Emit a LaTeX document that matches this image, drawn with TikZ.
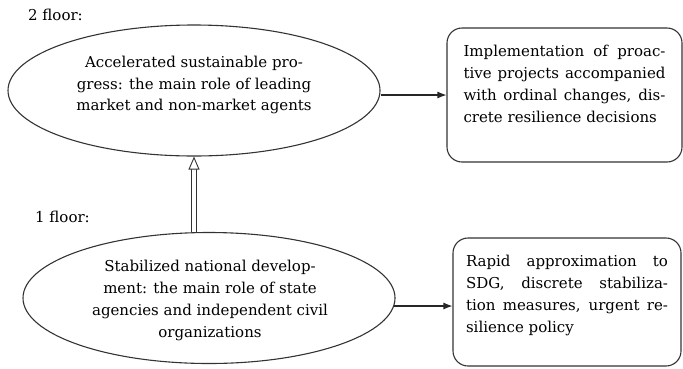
\documentclass[tikz,border=0pt]{standalone}
\usepackage{fontspec}
\setmainfont{DejaVu Serif}
\usetikzlibrary{arrows.meta,calc,shapes.geometric}
\newcommand\jl[1]{\makebox[\linewidth][s]{#1}}
\begin{document}
\begin{tikzpicture}[x=1bp,y=-1bp,
  font=\fontsize{15bp}{21.7bp}\selectfont,
  ell/.style={ellipse, draw=black!80, line width=1.1bp, inner sep=0pt},
  etext/.style={align=center, inner sep=0pt},
  rbox/.style={draw=black!80, line width=1.1bp, rounded corners=15bp, inner sep=0pt},
  conn/.style={-{Latex[length=9bp,width=7bp]}, line width=1.1bp, black!85},
  lift/.style={double, double distance=3.6bp, line width=0.9bp, black!80,
    -{Triangle[open, fill=white, length=13bp, width=11bp, line width=0.9bp]}},
  floorlbl/.style={anchor=base west, inner sep=0pt}]
\useasboundingbox (0,0) rectangle (683,368);

\node[floorlbl] (f2) at (28,20) {2 floor:};
\node[floorlbl] (f1) at (35,222) {1 floor:};

\node[ell, minimum width=372bp, minimum height=131bp] (top) at (194,90.5) {};
\node[etext] (toptxt) at (194,85) {Accelerated sustainable pro-\\gress: the main role of leading\\market and non-market agents};

\node[ell, minimum width=372bp, minimum height=131bp] (bot) at (209,298) {};
\node[etext] (bottxt) at (210,300.5) {Stabilized national develop-\\ment: the main role of state\\agencies and independent civil\\organizations};

\node[rbox, minimum width=235bp, minimum height=134bp] (topbox) at (564.5,95)
  {\parbox[t][99bp][t]{202bp}{\jl{Implementation of proac-}\\\jl{tive projects accompanied}\\\jl{with ordinal changes, dis-}\\crete resilience decisions}};

\node[rbox, minimum width=228bp, minimum height=128bp] (botbox) at (567,302)
  {\parbox[t][93bp][t]{202bp}{\jl{Rapid approximation to}\\\jl{SDG, discrete stabiliza-}\\\jl{tion measures, urgent re-}\\silience policy}};

\draw[conn] (top.east |- topbox.west) -- (topbox.west);
\coordinate (bstart) at ($(bot.east)+(-1.4,8)$);
\draw[conn] (bstart) -- (bstart -| botbox.west);
\draw[lift] (bot.north -| top.south) -- (top.south);
\end{tikzpicture}
\end{document}
